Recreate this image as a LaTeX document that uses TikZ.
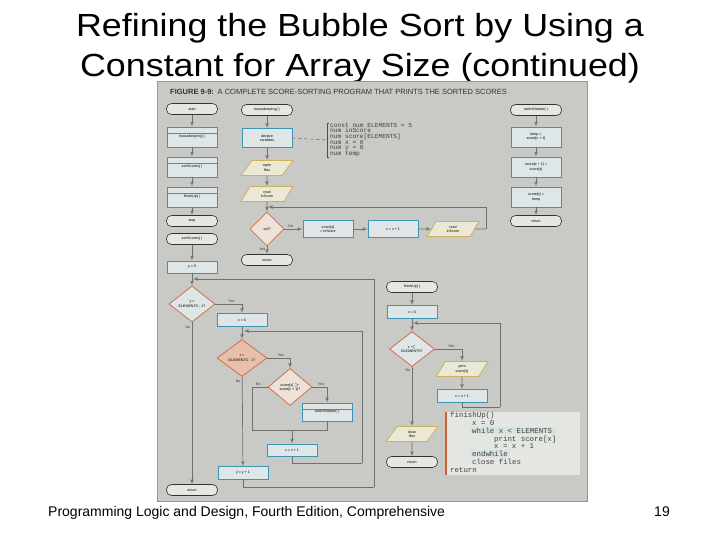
\documentclass[tikz,border=0pt]{standalone}
\usepackage{fontspec}
\setmainfont{Liberation Sans}
\setmonofont{Liberation Mono}
\newfontfamily\titlefont[FakeStretch=1.12]{Liberation Sans}
\usepackage{tikz}
\usetikzlibrary{arrows}
\usetikzlibrary{positioning}
\usetikzlibrary{shapes.geometric}
\definecolor{panelgray}{RGB}{201,201,197}
\definecolor{panelline}{RGB}{150,150,148}
\definecolor{procfill}{RGB}{222,230,232}
\definecolor{procline}{RGB}{60,148,182}
\definecolor{termfill}{RGB}{230,230,226}
\definecolor{iofill}{RGB}{236,232,214}
\definecolor{ioline}{RGB}{204,178,92}
\definecolor{decline}{RGB}{206,112,76}
\definecolor{decfill}{RGB}{222,230,230}
\definecolor{decpeach}{RGB}{232,192,170}
\definecolor{declight}{RGB}{236,226,216}
\definecolor{linegray}{RGB}{112,112,112}
\definecolor{codefill}{RGB}{228,230,226}
\definecolor{codehl}{RGB}{212,226,226}
\definecolor{codebar}{RGB}{206,96,52}
\newcommand{\chartfont}{\fontsize{3.6}{4.2}\selectfont}
\newcommand{\codefont}{\ttfamily\fontsize{7.4}{7.8}\selectfont}
\tikzstyle{every node}+=[inner sep=0pt]
\tikzstyle{term} = [rectangle, draw=black!80, fill=termfill, rounded corners=5pt, font=\chartfont, minimum width=51pt, minimum height=11pt, line width=0.6pt]
\tikzstyle{proc} = [rectangle, draw=procline, fill=procfill, font=\chartfont, align=center, minimum width=50pt, minimum height=13pt, line width=0.8pt]
\tikzstyle{predef} = [proc, minimum height=20pt, path picture={\draw[procline, line width=0.8pt] ([yshift=-6pt]path picture bounding box.north west) -- ([yshift=-6pt]path picture bounding box.north east);}]
\tikzstyle{io} = [trapezium, trapezium left angle=65, trapezium right angle=115, trapezium stretches=true, draw=ioline, fill=iofill, font=\chartfont, align=center, minimum width=52pt, minimum height=15pt, line width=0.8pt]
\tikzstyle{decision} = [diamond, draw=decline, fill=decfill, font=\chartfont, align=center, minimum width=46pt, minimum height=36pt, line width=0.8pt]
\tikzstyle{line} = [draw=linegray, line width=0.7pt, -latex']
\tikzstyle{wire} = [draw=linegray, line width=0.7pt]
\tikzstyle{value} = [font=\chartfont, text=black!80, inner sep=1.5pt]
\tikzstyle{codeline} = [anchor=base west, font=\codefont, text=black!75]

\begin{document}
\begin{tikzpicture}[x=1pt, y=-1pt, node distance=30pt]
            \useasboundingbox (0,0) rectangle (720,540);
            % Slide title and footer
            \node [anchor=base, font=\titlefont\fontsize{32}{38}\selectfont] (title1) at (360,37) {Refining the Bubble Sort by Using a};
            \node [anchor=base, font=\titlefont\fontsize{32}{38}\selectfont] (title2) at (360,77) {Constant for Array Size (continued)};
            \node [anchor=base west, font=\fontsize{14}{16}\selectfont] (book) at (48,516) {Programming Logic and Design, Fourth Edition, Comprehensive};
            \node [anchor=base east, font=\fontsize{14}{16}\selectfont] (page) at (670,516) {19};
            % Figure panel
            \draw [draw=panelline, fill=panelgray] (157,81) rectangle (587,501);
            \node [anchor=west, font=\fontsize{7.5}{8}\selectfont, text=black!80] (caption) at (170,92) {\textbf{FIGURE 9-9:}\enspace A COMPLETE SCORE-SORTING PROGRAM THAT PRINTS THE SORTED SCORES};
            % Place nodes: main line
            \node [term] (start) at (192,109) {start};
            \node [predef, below of=start, node distance=28pt] (hk) {housekeeping( )};
            \node [predef, below of=hk] (ss) {sortScores( )};
            \node [predef, below of=ss] (fu) {finishUp( )};
            \node [term, below of=fu, node distance=24pt] (stop) {stop};
            % housekeeping
            \node [term] (hkT) at (267,110) {housekeeping( )};
            \node [proc, minimum height=19pt, below of=hkT, node distance=28pt] (decl) {declare\\variables};
            \node [io, below of=decl] (open) {open\\files};
            \node [io, below of=open, node distance=26pt] (read1) {read\\inScore};
            \node [decision, fill=declight, minimum width=34pt, minimum height=34pt, below of=read1, node distance=35pt] (eof) {eof?};
            \node [proc, minimum height=17pt, right of=eof, node distance=61pt] (sc) {score[x]\\= inScore};
            \node [proc, minimum height=17pt, right of=sc, node distance=65pt] (xi2) {x = x + 1};
            \node [io, right of=xi2, node distance=60pt] (read2) {read\\inScore};
            \node [term, below of=eof, node distance=31pt] (ret2) {return};
            \node [anchor=west, inner xsep=3pt, align=left, font=\ttfamily\fontsize{6.2}{5.7}\selectfont, text=black!75] (decls) at (327,140)
                  {const num ELEMENTS = 5\\num inScore\\num score[ELEMENTS]\\num x = 0\\num y = 0\\num temp};
            % switchValues
            \node [term] (swT) at (536,110) {switchValues( )};
            \node [proc, minimum height=20pt, below of=swT, node distance=27pt] (t1) {temp =\\score[x + 1]};
            \node [proc, minimum height=20pt, below of=t1] (t2) {score[x + 1] =\\score[x]};
            \node [proc, minimum height=20pt, below of=t2] (t3) {score[x] =\\temp};
            \node [term, below of=t3, node distance=24pt] (ret3) {return};
            % sortScores
            \node [term, below of=stop, node distance=18pt] (ssT) {sortScores( )};
            \node [proc, minimum height=12pt, below of=ssT, node distance=28pt] (y0) {y = 0};
            \node [decision, below of=y0, node distance=37pt] (dy) {y <\\ELEMENTS - 1?};
            \node [proc] (x0) at (242,320) {x = 0};
            \node [decision, fill=decpeach, minimum width=50pt, minimum height=37pt, below of=x0, node distance=38pt] (dx) {x <\\ELEMENTS - 1?};
            \node [decision, fill=declight, minimum width=44pt, minimum height=37pt] (dsw) at (290,387) {score[x] $>$\\score[x + 1]?};
            \node [predef, minimum height=18pt] (sw) at (327,412) {switchValues( )};
            \node [proc, minimum height=12pt] (xinc) at (292,450) {x = x + 1};
            \node [proc] (yinc) at (243,473) {y = y + 1};
            \node [term] (ret1) at (192,490) {return};
            % finishUp
            \node [term] (fuT) at (412,287) {finishUp( )};
            \node [proc, below of=fuT, node distance=25pt] (x0b) {x = 0};
            \node [decision, minimum width=45pt, minimum height=35pt, below of=x0b, node distance=37pt] (dxb) {x $<$\\ELEMENTS?};
            \node [io] (pr) at (462,369) {print\\score[x]};
            \node [proc, below of=pr, node distance=27pt] (xib) {x = x + 1};
            \node [io, below of=dxb, node distance=85pt] (cf) {close\\files};
            \node [term, below of=cf, node distance=28pt] (ret4) {return};
            % finishUp pseudocode
            \fill [codefill] (445,412) rectangle (580,475);
            \fill [codebar] (445,412) rectangle (447,475);
            \fill [codehl] (470,427) rectangle (556,434);
            \fill [codehl] (470,450) rectangle (510,457);
            \node [codeline] (c1) at (450,417) {finishUp()};
            \node [codeline] (c2) at (472,425) {x = 0};
            \node [codeline] (c3) at (472,433) {while x < ELEMENTS};
            \node [codeline] (c4) at (494,441) {print score[x]};
            \node [codeline] (c5) at (494,448) {x = x + 1};
            \node [codeline] (c6) at (472,456) {endwhile};
            \node [codeline] (c7) at (472,464) {close files};
            \node [codeline] (c8) at (450,472) {return};
            % Loop corners
            \coordinate (nocorner) at (252,430);
            \coordinate (merge) at (292,430);
            \coordinate (iloopbr) at (362,463);
            \coordinate (iloopin) at (244,331);
            \coordinate (oloopbr) at (374,487);
            \coordinate (oloopin) at (193,279);
            \coordinate (mloopbr) at (486,229);
            \coordinate (mloopin) at (268,207);
            \coordinate (bloopbr) at (500,407);
            \coordinate (bloopin) at (413,323);
            % Draw edges
            \path [line] (start) -- (hk);
            \path [line] (hk) -- (ss);
            \path [line] (ss) -- (fu);
            \path [line] (fu) -- (stop);
            \path [line] (hkT) -- (decl);
            \path [line] (decl) -- (open);
            \path [line] (open) -- (read1);
            \path [line] (read1) -- (eof);
            \path [line] (eof) -- node [value, above, pos=0.35] {No} (sc);
            \path [line] (sc) -- (xi2);
            \path [line] (xi2) -- (read2);
            \path [wire] (read2.east) -- (mloopbr);
            \path [line] (mloopbr) |- (mloopin);
            \path [line] (eof) -- node [value, left, pos=0.4] {Yes} (ret2);
            \draw [linegray, dashed, line width=0.6pt] (decl.east) -- (decls.west);
            \draw [black!70, line width=0.6pt] ([xshift=2pt]decls.north west) -- (decls.north west) -- (decls.south west) -- ([xshift=2pt]decls.south west);
            \path [line] (swT) -- (t1);
            \path [line] (t1) -- (t2);
            \path [line] (t2) -- (t3);
            \path [line] (t3) -- (ret3);
            \path [line] (ssT) -- (y0);
            \path [line] (y0) -- (dy);
            \path [line] (dy.east) -| node [value, above, pos=0.3] {Yes} (x0);
            \path [line] (dy) -- node [value, left, pos=0.03] {No} (ret1);
            \path [line] (x0) -- (dx);
            \path [line] (dx.east) -| node [value, above, pos=0.3] {Yes} (dsw);
            \path [line] (dx) -- node [value, left, pos=0.05] {No} (yinc);
            \path [line] (dsw.east) -| node [value, above, pos=0.3] {Yes} (sw);
            \path [wire] (dsw.west) -| node [value, above, pos=0.3] {No} (nocorner) -- (merge);
            \path [wire] (sw.south) |- (merge);
            \path [line] (merge) -- (xinc);
            \path [wire] (xinc.south) |- (iloopbr);
            \path [line] (iloopbr) |- (iloopin);
            \path [wire] (yinc.south) |- (oloopbr);
            \path [line] (oloopbr) |- (oloopin);
            \path [line] (fuT) -- (x0b);
            \path [line] (x0b) -- (dxb);
            \path [line] (dxb.east) -| node [value, above, pos=0.3] {Yes} (pr);
            \path [line] (pr) -- (xib);
            \path [wire] (xib.south) |- (bloopbr);
            \path [line] (bloopbr) |- (bloopin);
            \path [line] (dxb) -- node [value, left, pos=0.05] {No} (cf);
            \path [line] (cf) -- (ret4);
          \end{tikzpicture}
\end{document}
